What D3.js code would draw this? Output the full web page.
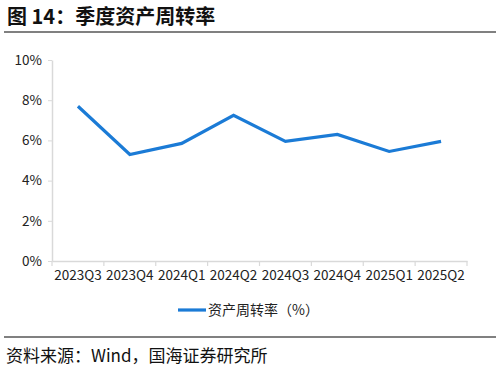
<!DOCTYPE html>
<html><head><meta charset="utf-8">
<script src="https://cdn.jsdelivr.net/npm/d3@7"></script>
<style>body{margin:0;background:#fff}svg{display:block}</style>
</head><body>
<svg id="c" width="498" height="375"></svg>
<script>
const categories = ["2023Q3","2023Q4","2024Q1","2024Q2","2024Q3","2024Q4","2025Q1","2025Q2"];
const values = [7.7, 5.3, 5.85, 7.25, 5.95, 6.3, 5.45, 5.95];
const yTicks = [0,2,4,6,8,10];
const seriesName = "资产周转率（%）";
const titleText = "图 14：季度资产周转率";
const sourceText = "资料来源：Wind，国海证券研究所";

const svg = d3.select("#c");
const font = "'Noto Sans CJK SC', 'Noto Sans', sans-serif";

svg.append("text").attr("x",7).attr("y",24).attr("font-family",font)
  .attr("font-size",20).attr("font-weight","bold").attr("fill","#111").text(titleText);
svg.append("line").attr("x1",4).attr("x2",496).attr("y1",32).attr("y2",32)
  .attr("stroke","#808080").attr("stroke-width",2);

const x = d3.scaleBand().domain(categories).range([52,467]);
const y = d3.scaleLinear().domain([0,10]).range([261,60]);

const gx = svg.append("g").attr("transform","translate(0,261)")
  .call(d3.axisBottom(x).tickSizeOuter(0).tickSize(0));
gx.select(".domain").attr("stroke","#d9d9d9").attr("stroke-width",1.5);
gx.selectAll("text").attr("font-family",font).attr("font-size",13.5).attr("fill","#222").attr("dy","1.15em");
const edges = categories.map(c=>x(c)).concat([x.range()[1]]);
svg.append("g").selectAll("line").data(edges).join("line")
  .attr("x1",d=>d).attr("x2",d=>d).attr("y1",261).attr("y2",266)
  .attr("stroke","#d9d9d9").attr("stroke-width",1.2);

const gy = svg.append("g").attr("transform","translate(52,0)")
  .call(d3.axisLeft(y).tickValues(yTicks).tickFormat(d=>d+"%").tickSize(4).tickSizeOuter(0));
gy.select(".domain").attr("stroke","#d9d9d9").attr("stroke-width",1.5);
gy.selectAll(".tick line").attr("stroke","#d9d9d9");
gy.selectAll("text").attr("font-family",font).attr("font-size",13.5).attr("fill","#222").attr("x",-10);

const line = d3.line().x((d,i)=>x(categories[i])+x.bandwidth()/2).y(d=>y(d));
svg.append("path").datum(values).attr("d",line).attr("fill","none")
  .attr("stroke","#1b7bd6").attr("stroke-width",3.2).attr("stroke-linejoin","miter");

svg.append("line").attr("x1",178).attr("x2",206).attr("y1",310).attr("y2",310)
  .attr("stroke","#1b7bd6").attr("stroke-width",3.2);
svg.append("text").attr("x",208).attr("y",315).attr("font-family",font)
  .attr("font-size",14).attr("fill","#222").text(seriesName);

svg.append("line").attr("x1",4).attr("x2",496).attr("y1",337).attr("y2",337)
  .attr("stroke","#808080").attr("stroke-width",2);
svg.append("text").attr("x",6).attr("y",362).attr("font-family",font)
  .attr("font-size",17).attr("fill","#111").text(sourceText);
</script>
</body></html>
